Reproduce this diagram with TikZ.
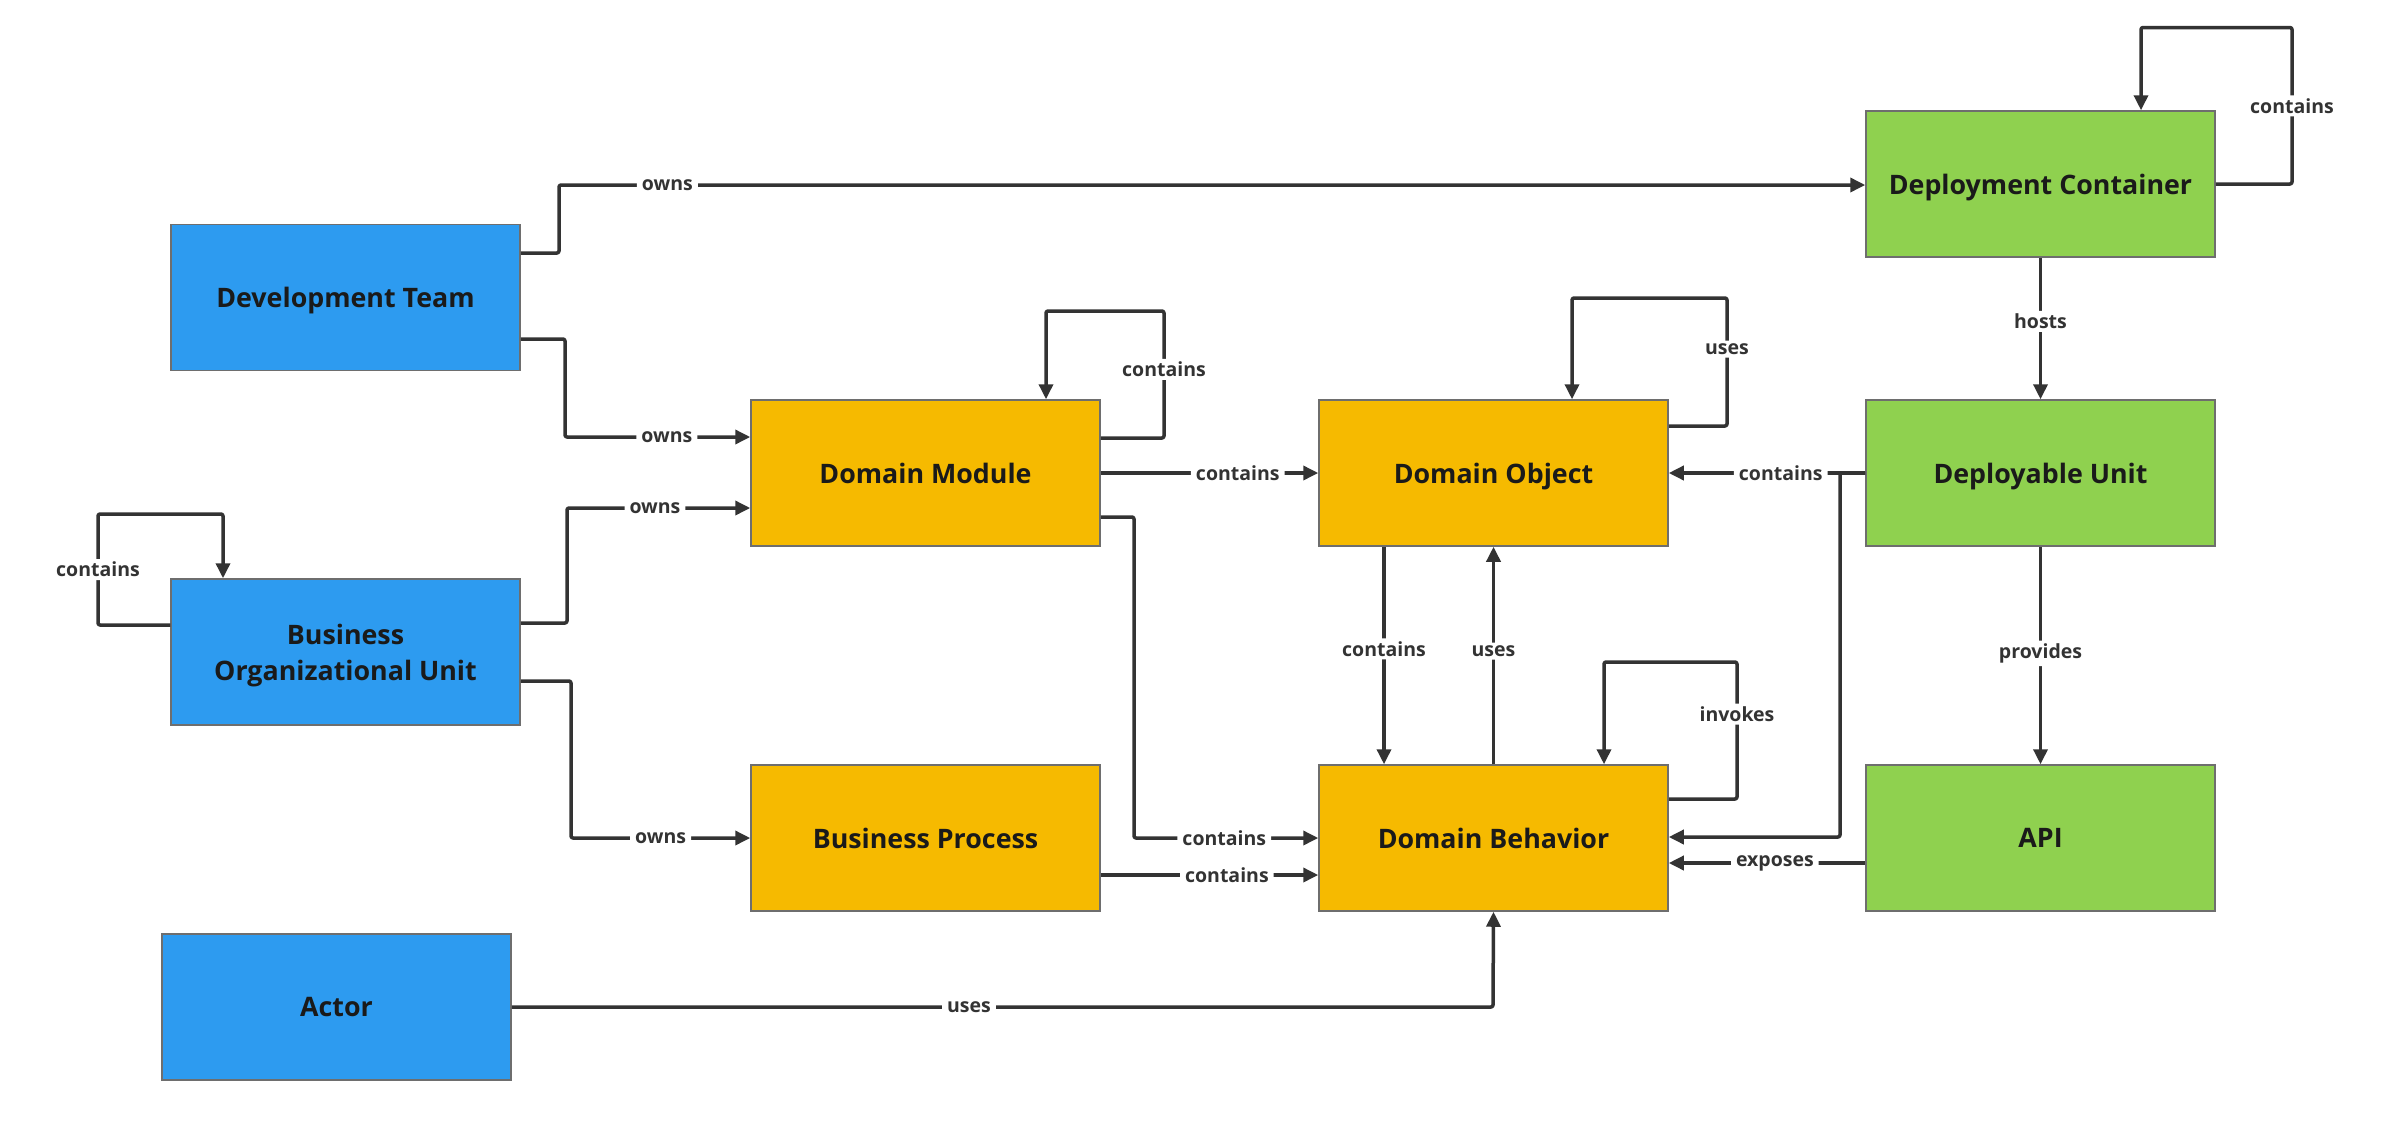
\documentclass[tikz,border=0pt]{standalone}
\usepackage{fontspec}
\setmainfont{Open Sans}
\usetikzlibrary{arrows.meta}
\definecolor{cblue}{HTML}{2D9BF0}
\definecolor{cyel}{HTML}{F6BA00}
\definecolor{cgreen}{HTML}{8FD14F}
\definecolor{cline}{HTML}{333333}
\definecolor{cedge}{HTML}{6E6E6E}
\definecolor{ctext}{HTML}{1A1A1A}
\begin{document}
\begin{tikzpicture}[x=1pt,y=-1pt,
  box/.style={draw=cedge, line width=1.5pt, minimum width=349pt, minimum height=146pt,
    inner sep=0pt, text depth=0pt, font=\fontsize{26.8}{36}\selectfont\bfseries,
    text=ctext, align=center},
  bluebox/.style={box, fill=cblue},
  yelbox/.style={box, fill=cyel},
  greenbox/.style={box, fill=cgreen},
  conn/.style={draw=cline, line width=3.5pt, rounded corners=2pt, line join=round,
    -{Triangle[length=15pt,width=14pt]}},
  lbl/.style={fill=white, text=cline, font=\fontsize{19.5}{23}\selectfont\bfseries,
    inner xsep=5pt, inner ysep=3pt}
]
\path[fill=white] (0,0) rectangle (2406,1122);
\useasboundingbox (0,0) rectangle (2406,1122);

% nodes
\node[bluebox] (dev) at (345.5,297.5) {Development Team};
\node[bluebox] (bou) at (345.5,652) {Business\\Organizational Unit};
\node[bluebox] (actor) at (336.5,1007) {Actor};
\node[yelbox] (dm) at (925.5,473) {Domain Module};
\node[yelbox] (do) at (1493.5,473) {Domain Object};
\node[yelbox] (bp) at (925.5,838) {Business Process};
\node[yelbox] (db) at (1493.5,838) {Domain Behavior};
\node[greenbox] (dc) at (2040.5,184) {Deployment Container};
\node[greenbox] (du) at (2040.5,473) {Deployable Unit};
\node[greenbox] (api) at (2040.5,838) {API};

% connectors
\draw[conn] (dev.east |- 0,253) -- (559,253) -- (559,185)
  -- node[lbl,pos=0.083]{owns} (dc.west |- 0,185);
\draw[conn] (dev.east |- 0,339) -- (565,339) -- (565,437)
  -- node[lbl,pos=0.55]{owns} (dm.west |- 0,437);
\draw[conn] (bou.east |- 0,623) -- (567,623) -- (567,508)
  -- node[lbl,pos=0.48]{owns} (dm.west |- 0,508);
\draw[conn] (bou.east |- 0,681) -- (571,681) -- (571,838)
  -- node[lbl,pos=0.5]{owns} (bp.west);
\draw[conn] (bou.west |- 0,625) -- (98,625) -- node[lbl]{contains} (98,514)
  -- (223,514) -- (bou.north -| 223,0);
\draw[conn] (dm.east |- 0,438) -- (1164,438) -- node[lbl,pos=0.54]{contains} (1164,311)
  -- (1046,311) -- (dm.north -| 1046,0);
\draw[conn] (dm.east) -- node[lbl,pos=0.63]{contains} (do.west);
\draw[conn] (dm.east |- 0,517) -- (1134,517) -- (1134,838)
  -- node[lbl,pos=0.49]{contains} (db.west);
\draw[conn] (bp.east |- 0,875) -- node[lbl,pos=0.58]{contains} (db.west |- 0,875);
\draw[conn] (do.east |- 0,426) -- (1727,426) -- node[lbl,pos=0.6]{uses} (1727,298)
  -- (1572,298) -- (do.north -| 1572,0);
\draw[conn] (do.south -| 1384,0) -- node[lbl,pos=0.47]{contains} (db.north -| 1384,0);
\draw[conn] (db.north) -- node[lbl,pos=0.52]{uses} (do.south);
\draw[conn] (db.east |- 0,799) -- (1737,799) -- node[lbl,pos=0.62]{invokes} (1737,662)
  -- (1604,662) -- (db.north -| 1604,0);
\draw[conn] (du.west) -- node[lbl,pos=0.43]{contains} (do.east);
\draw[conn] (du.west) -- (1840,473) -- (1840,837) -- (db.east |- 0,837);
\draw[conn] (api.west |- 0,863) -- node[lbl,pos=0.46]{exposes} (db.east |- 0,863);
\draw[conn] (dc.south) -- node[lbl,pos=0.45]{hosts} (du.north);
\draw[conn] (du.south) -- node[lbl,pos=0.49]{provides} (api.north);
\draw[conn] (dc.east) -- (2292,184) -- node[lbl,pos=0.5]{contains} (2292,27.5)
  -- (2141,27.5) -- (dc.north -| 2141,0);
\draw[conn] (actor.east) -- node[lbl,pos=0.466]{uses} (1493,1007) -- (db.south);
\end{tikzpicture}
\end{document}
